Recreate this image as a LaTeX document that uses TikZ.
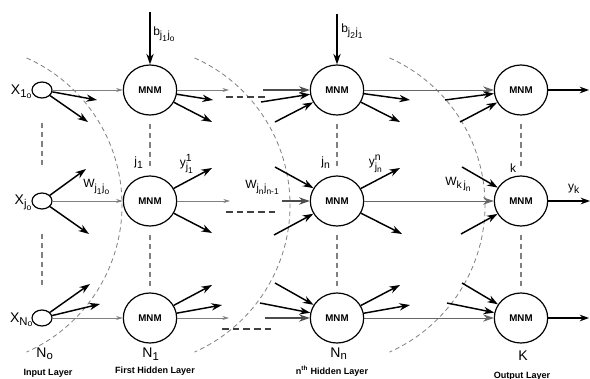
\documentclass[tikz,border=0pt]{standalone}
\usepackage{fontspec}
\usepackage{amsmath}
\setmainfont{Liberation Sans}
\usetikzlibrary{shapes.geometric,arrows.meta}
\DeclareMathSizes{9}{9}{7.8}{6.3}
\DeclareMathSizes{10.5}{10.5}{8.5}{6.5}
\newcommand{\sfx}[1]{\text{#1}}
\begin{document}
\begin{tikzpicture}[x=0.75pt,y=-0.75pt,
  mnm/.style={ellipse,draw,line width=0.9pt,minimum width=40pt,minimum height=37.5pt,inner sep=0pt,font=\bfseries\fontsize{7.3}{8}\selectfont},
  inp/.style={ellipse,draw,line width=0.9pt,minimum width=15pt,minimum height=12pt,inner sep=0pt},
  arr/.style={line width=1.1pt,-{Stealth[length=8pt,width=5.5pt]}},
  harr/.style={gray,line width=0.6pt,-{Stealth[length=5pt,width=3pt]}},
  hin/.style={black!70,line width=0.8pt,-{Stealth[length=8pt,width=5.5pt]}},
  outarr/.style={line width=0.9pt,-{Stealth[length=7pt,width=5pt]}},
  vdash/.style={gray,line width=0.8pt,dash pattern=on 4pt off 3pt},
  hdash/.style={black!75,line width=0.9pt,dash pattern=on 5pt off 3pt},
  arcdash/.style={gray,line width=0.6pt,dash pattern=on 3.5pt off 2.5pt},
  lbl/.style={inner sep=0pt,font=\fontsize{9}{10}\selectfont},
  big/.style={inner sep=0pt,font=\fontsize{10.5}{12}\selectfont},
  layer/.style={inner sep=0pt,font=\bfseries\fontsize{6.8}{8}\selectfont}
]
\fill[white] (0,0) rectangle (590,379);
\useasboundingbox (0,0) rectangle (590,379);

% dashed arcs
\draw[arcdash] (-39,205) ++(-66:161) arc[start angle=-66,end angle=66,radius=161];
\draw[arcdash] (129,205) ++(-66:161) arc[start angle=-66,end angle=66,radius=161];
\draw[arcdash] (324,205) ++(-66:161) arc[start angle=-66,end angle=66,radius=161];

% nodes
\node[inp] (i1) at (42,90) {};
\node[inp] (i2) at (42,201) {};
\node[inp] (i3) at (42,318) {};
\node[mnm] (a1) at (150,90) {MNM};
\node[mnm] (a2) at (150,201) {MNM};
\node[mnm] (a3) at (150,318) {MNM};
\node[mnm] (b1) at (337,90) {MNM};
\node[mnm] (b2) at (337,201) {MNM};
\node[mnm] (b3) at (337,318) {MNM};
\node[mnm] (o1) at (521,90) {MNM};
\node[mnm] (o2) at (521,201) {MNM};
\node[mnm] (o3) at (521,318) {MNM};

% vertical dashes
\draw[vdash,shorten <=18pt,shorten >=18pt] (i1) -- (i2);
\draw[vdash,shorten <=18pt,shorten >=18pt] (i2) -- (i3);
\foreach \n in {a,b,o}{
  \draw[vdash,shorten <=6pt,shorten >=5pt] (\n1) -- (\n2);
  \draw[vdash,shorten <=6pt,shorten >=5pt] (\n2) -- (\n3);
}

% coordinates for free ends
\coordinate (p11) at (97,100);  \coordinate (p12) at (88,122);
\coordinate (p21) at (86,169);  \coordinate (p22) at (89,234);
\coordinate (p31) at (90,284);  \coordinate (p32) at (100,304);
\coordinate (s11) at (213,100); \coordinate (s12) at (212,122);
\coordinate (s21) at (212,168); \coordinate (s22) at (212,233);
\coordinate (s31) at (212,285); \coordinate (s32) at (222,305);
\coordinate (q1) at (229,90); \coordinate (q2) at (230,201); \coordinate (q3) at (229,318);
\coordinate (d1s) at (226,97);  \coordinate (d1e) at (268,97);
\coordinate (d2s) at (226,212); \coordinate (d2e) at (277,212);
\coordinate (d3s) at (222,329); \coordinate (d3e) at (271,329);
\coordinate (r1) at (263,90); \coordinate (r2) at (282,201); \coordinate (r3) at (265,318);
\coordinate (u11) at (261,102); \coordinate (u12) at (275,122);
\coordinate (u21) at (275,167); \coordinate (u22) at (274,235);
\coordinate (u31) at (275,283); \coordinate (u32) at (260,303);
\coordinate (t11) at (410,100); \coordinate (t12) at (400,122);
\coordinate (t21) at (400,168); \coordinate (t22) at (402,234);
\coordinate (t31) at (400,285); \coordinate (t32) at (410,305);
\coordinate (v11) at (445,100); \coordinate (v12) at (460,122);
\coordinate (v21) at (462,167); \coordinate (v22) at (461,234);
\coordinate (v31) at (462,283); \coordinate (v32) at (447,303);
\coordinate (e1) at (589,90); \coordinate (e2) at (590,201); \coordinate (e3) at (589,318);
\coordinate (bt1) at (150,12); \coordinate (bt2) at (337,14);

\foreach \k in {1,2,3}{
  % input layer
  \draw[harr] (i\k) -- (a\k);
  \draw[arr] (i\k) -- (p\k1);
  \draw[arr] (i\k) -- (p\k2);
  % first hidden outputs
  \draw[harr] (a\k) -- (q\k);
  \draw[arr] (a\k) -- (s\k1);
  \draw[arr] (a\k) -- (s\k2);
  \draw[hdash] (d\k s) -- (d\k e);
  % nth hidden inputs
  \draw[hin] (r\k) -- (b\k);
  \draw[arr] (u\k1) -- (b\k);
  \draw[arr] (u\k2) -- (b\k);
  % nth hidden outputs
  \draw[arr] (b\k) -- (t\k1);
  \draw[arr] (b\k) -- (t\k2);
  \draw[hin,gray!80!black,line width=0.7pt] (b\k) -- (o\k);
  \draw[arr] (v\k1) -- (o\k);
  \draw[arr] (v\k2) -- (o\k);
  \draw[outarr] (o\k) -- (e\k);
}

% bias
\draw[arr] (bt1) -- (a1);
\draw[arr] (bt2) -- (b1);

% labels
\node[lbl,anchor=west] (lbb1) at (153,34) {$\sfx{b}_{\sfx{j}_{\sfx{1}}\sfx{j}_{\sfx{o}}}$};
\node[lbl,anchor=west] (lbb2) at (341,31) {$\sfx{b}_{\sfx{j}_{\sfx{2}}\sfx{j}_{\sfx{1}}}$};
\node[big,anchor=east] (lx1) at (33,92) {$\sfx{X}_{\sfx{1}_{\sfx{o}}}$};
\node[big,anchor=east] (lx2) at (33,203) {$\sfx{X}_{\sfx{j}_{\sfx{o}}}$};
\node[big,anchor=east] (lx3) at (34,320) {$\sfx{X}_{\sfx{N}_{\sfx{o}}}$};
\node[lbl,anchor=west] (lw1) at (83,187) {$\sfx{W}_{\sfx{j}_{\sfx{1}}\sfx{j}_{\sfx{o}}}$};
\node[lbl,anchor=west] (lw2) at (245,187) {$\sfx{W}_{\sfx{j}_{\sfx{n}}\sfx{j}_{\sfx{n-1}}}$};
\node[lbl,anchor=west] (lw3) at (445,184) {$\sfx{W}_{\sfx{k}\,\sfx{j}_{\sfx{n}}}$};
\node[lbl] (lj1) at (139,163) {$\sfx{j}_{\sfx{1}}$};
\node[lbl] (lj2) at (326,163) {$\sfx{j}_{\sfx{n}}$};
\node[lbl] (lk) at (513,168) {k};
\node[lbl] (ly1) at (187,164) {$\sfx{y}^{\sfx{1}}_{\sfx{j}_{\sfx{1}}}$};
\node[lbl] (ly2) at (376,164) {$\sfx{y}^{\sfx{n}}_{\sfx{j}_{\sfx{n}}}$};
\node[lbl] (ly3) at (574,189) {$\sfx{y}_{\sfx{k}}$};
\node[big] (ln0) at (45,354) {$\sfx{N}_{\sfx{o}}$};
\node[big] (ln1) at (151,354) {$\sfx{N}_{\sfx{1}}$};
\node[big] (lnn) at (339,354) {$\sfx{N}_{\sfx{n}}$};
\node[big] (lnk) at (523,356) {K};
\node[layer] (ll1) at (48,373) {Input Layer};
\node[layer] (ll2) at (155,371) {First Hidden Layer};
\node[layer] (ll3) at (332,371) {n\textsuperscript{th} Hidden Layer};
\node[layer] (ll4) at (522,376) {Output Layer};
\end{tikzpicture}
\end{document}
